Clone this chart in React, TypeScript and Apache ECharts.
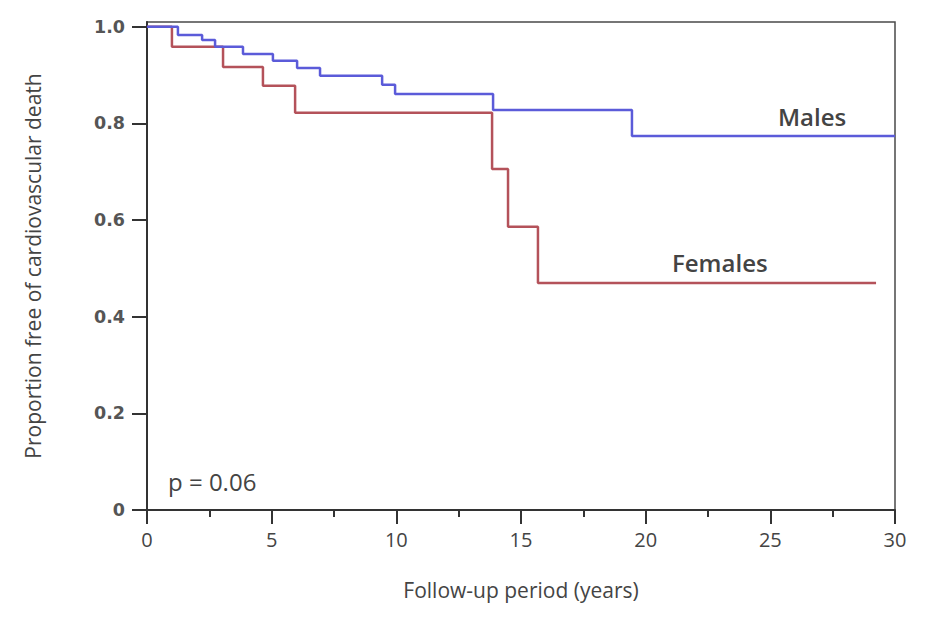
import React, { useEffect, useRef } from "react";
import * as echarts from "echarts";

const maleTimes = [0, 1.24, 2.21, 2.73, 3.85, 5.05, 6.02, 6.94, 9.43, 9.95, 13.88, 19.45, 30];
const maleSurv = [1.0, 0.983, 0.973, 0.959, 0.944, 0.93, 0.915, 0.899, 0.88, 0.861, 0.828, 0.774, 0.774];
const femaleTimes = [0, 1.0, 3.05, 4.65, 5.94, 13.84, 14.48, 15.68, 29.24];
const femaleSurv = [1.0, 0.959, 0.917, 0.878, 0.822, 0.706, 0.586, 0.47, 0.47];
const yTicks = [0, 0.2, 0.4, 0.6, 0.8, 1.0];
const xTicks = [0, 5, 10, 15, 20, 25, 30];

const FONT = "Open Sans";

export default function App() {
  const ref = useRef<HTMLDivElement>(null);
  useEffect(() => {
    if (!ref.current) return;
    const chart = echarts.init(ref.current, null, { renderer: "svg" });
    const males = maleTimes.map((t, i) => [t, maleSurv[i]]);
    const females = femaleTimes.map((t, i) => [t, femaleSurv[i]]);
    chart.setOption({
      animation: false,
      backgroundColor: "#ffffff",
      grid: {
        left: 147,
        right: 33,
        top: 22,
        bottom: 117,
        show: true,
        borderColor: "#4a4a4a",
        borderWidth: 1.5,
      },
      xAxis: {
        type: "value",
        min: 0,
        max: 30,
        interval: 5,
        name: "Follow-up period (years)",
        nameLocation: "middle",
        nameGap: 69,
        nameTextStyle: { fontFamily: FONT, fontSize: 21, color: "#444" },
        axisLine: { show: true, onZero: false, lineStyle: { color: "#333", width: 2 } },
        axisTick: { show: true, length: 14, lineStyle: { color: "#333", width: 2 }, customValues: xTicks },
        minorTick: { show: true, splitNumber: 2, length: 7, lineStyle: { color: "#333", width: 2 } },
        axisLabel: { fontFamily: FONT, fontSize: 20, color: "#444", margin: 19, customValues: xTicks },
        splitLine: { show: false },
      },
      yAxis: {
        type: "value",
        min: 0,
        max: 1.01,
        interval: 0.2,
        name: "Proportion free of cardiovascular death",
        nameLocation: "middle",
        nameGap: 104,
        nameTextStyle: { fontFamily: FONT, fontSize: 21, color: "#444" },
        axisLine: { show: true, lineStyle: { color: "#333", width: 2 } },
        axisTick: { show: true, length: 15, lineStyle: { color: "#333", width: 2 }, customValues: yTicks },
        axisLabel: {
          fontFamily: "DejaVu Sans",
          fontWeight: "bold",
          fontSize: 17.5,
          color: "#555",
          margin: 22,
          customValues: yTicks,
          formatter: (v: number) => (v === 0 ? "0" : v.toFixed(1)),
        },
        splitLine: { show: false },
      },
      series: [
        {
          name: "Males",
          type: "line",
          step: "end",
          data: males,
          showSymbol: false,
          lineStyle: { color: "#5b5bd9", width: 2.5 },
          z: 3,
        },
        {
          name: "Females",
          type: "line",
          step: "end",
          data: females,
          showSymbol: false,
          lineStyle: { color: "#b4525a", width: 2.5 },
          z: 2,
        },
      ],
      graphic: [
        {
          type: "text",
          x: 778,
          y: 116,
          style: { text: "Males", fontFamily: FONT, fontWeight: 600, fontSize: 24, fill: "#444", verticalAlign: "middle" },
        },
        {
          type: "text",
          x: 672,
          y: 262,
          style: { text: "Females", fontFamily: FONT, fontWeight: 600, fontSize: 24, fill: "#444", verticalAlign: "middle" },
        },
        {
          type: "text",
          x: 168,
          y: 481,
          style: { text: "p = 0.06", fontFamily: FONT, fontSize: 24, fill: "#444", verticalAlign: "middle" },
        },
      ],
    });
    return () => chart.dispose();
  }, []);
  return <div ref={ref} style={{ position: "absolute", left: 0, top: 0, width: 928, height: 627 }} />;
}
